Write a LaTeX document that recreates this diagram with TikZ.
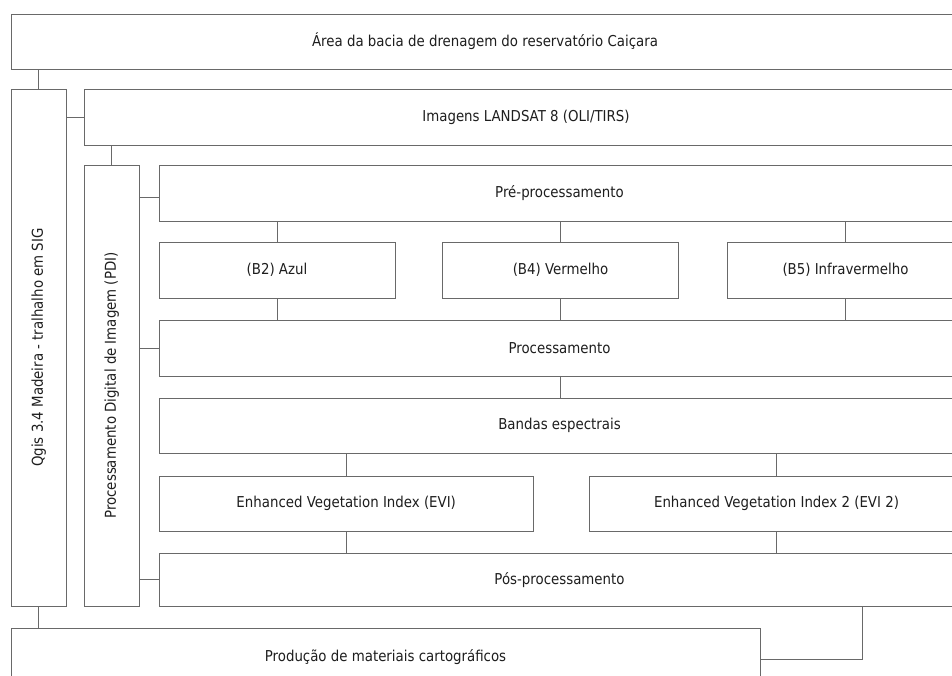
\documentclass[tikz,border=0pt]{standalone}
\usepackage{fontspec}
\setmainfont[FakeStretch=0.89]{DejaVu Sans}
\definecolor{linec}{RGB}{105,105,105}
\definecolor{textc}{RGB}{30,30,30}
\begin{document}
\begin{tikzpicture}[x=1pt,y=-1pt,
  box/.style={draw=linec, line width=0.9pt, fill=white, inner sep=0pt, outer sep=0pt,
    minimum width=#1, text=textc, font=\fontsize{15}{17}\selectfont},
  conn/.style={draw=linec, line width=0.9pt}]
\useasboundingbox (0,0) rectangle (952,675);
\clip (0,0) rectangle (952,675);
\fill[white] (0,0) rectangle (952,675);
% nodes
\node[box=948pt, minimum height=55pt] (top) at (485,41.5) {Área da bacia de drenagem do reservatório Caiçara};
\node[box=517pt, minimum height=55.5pt, rotate=90] (qgis) at (38.75,347.5) {Qgis 3.4 Madeira - tralhalho em SIG};
\node[box=884pt, minimum height=56pt] (landsat) at (526,117) {Imagens LANDSAT 8 (OLI/TIRS)};
\node[box=441pt, minimum height=55.5pt, rotate=90] (pdi) at (111.75,385.5) {Processamento Digital de Imagem (PDI)};
\node[box=801pt, minimum height=56pt] (pre) at (559.5,193) {Pré-processamento};
\node[box=236pt, minimum height=56pt] (b2) at (277,270) {(B2) Azul};
\node[box=236.5pt, minimum height=56pt] (b4) at (560.5,270) {(B4) Vermelho};
\node[box=235.5pt, minimum height=56pt] (b5) at (845.5,270) {(B5) Infravermelho};
\node[box=801pt, minimum height=55.3pt] (proc) at (559.5,348.3) {Processamento};
\node[box=801pt, minimum height=55pt] (bandas) at (559.5,425.8) {Bandas espectrais};
\node[box=374.3pt, minimum height=55pt] (evi) at (346.2,503.5) {Enhanced Vegetation Index (EVI)};
\node[box=375pt, minimum height=55pt] (evi2) at (776.5,503.5) {Enhanced Vegetation Index 2 (EVI 2)};
\node[box=801pt, minimum height=52.7pt] (pos) at (559.5,579.7) {Pós-processamento};
\node[box=749pt, minimum height=58pt] (prod) at (385.5,657) {Produção de materiais cartográficos};
% connectors (qgis and pdi are rotated: east = top, south = right, west = bottom)
\draw[conn] (qgis.east) -- (qgis.east |- top.south);
\draw[conn] (landsat.west) -- (landsat.west -| qgis.south);
\draw[conn] (pdi.east) -- (pdi.east |- landsat.south);
\draw[conn] ([yshift=-4pt]pre.west) -- ([yshift=-4pt]pre.west -| pdi.south);
\draw[conn] (proc.west) -- (proc.west -| pdi.south);
\draw[conn] (pos.west) -- (pos.west -| pdi.south);
\draw[conn] (b2.north) -- (b2.north |- pre.south);
\draw[conn] (b4.north) -- (b4.north |- pre.south);
\draw[conn] (b5.north) -- (b5.north |- pre.south);
\draw[conn] (b2.south) -- (b2.south |- proc.north);
\draw[conn] (b4.south) -- (b4.south |- proc.north);
\draw[conn] (b5.south) -- (b5.south |- proc.north);
\draw[conn] (b4.south |- proc.south) -- (b4.south |- bandas.north);
\draw[conn] (evi.north) -- (evi.north |- bandas.south);
\draw[conn] (evi2.north) -- (evi2.north |- bandas.south);
\draw[conn] (evi.south) -- (evi.south |- pos.north);
\draw[conn] (evi2.south) -- (evi2.south |- pos.north);
\draw[conn] (qgis.west) -- (qgis.west |- prod.north);
\draw[conn] ([xshift=302.5pt]pos.south) |- ([yshift=-2pt]prod.east);
\end{tikzpicture}
\end{document}
